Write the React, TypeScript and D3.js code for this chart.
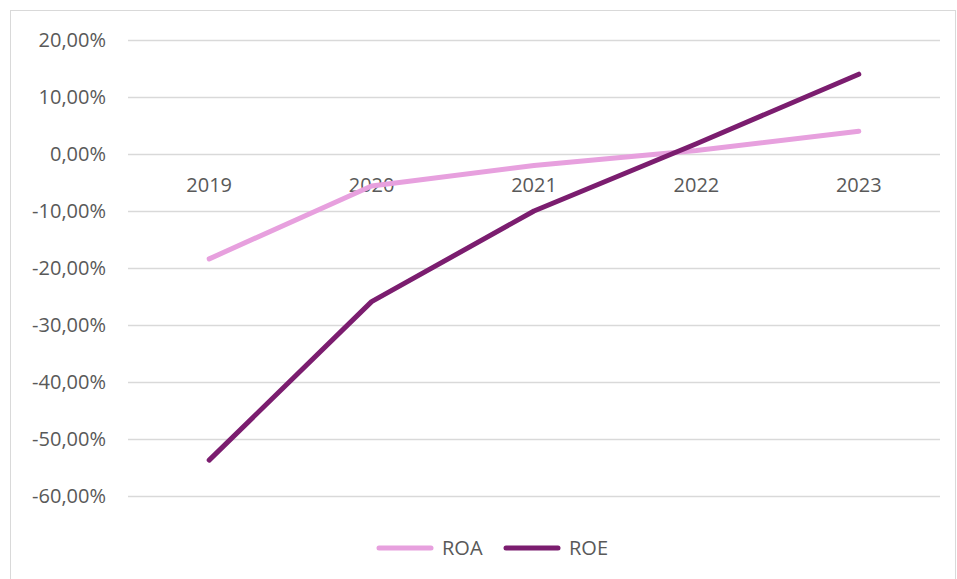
import React, { useEffect, useRef } from "react";
import * as d3 from "d3";

const years = ["2019", "2020", "2021", "2022", "2023"];
const roa = [-18.4, -5.6, -2.0, 0.6, 4.0];
const roe = [-53.7, -25.9, -10.0, 1.8, 14.0];
const yTicks = [20, 10, 0, -10, -20, -30, -40, -50, -60];

const W = 957;
const H = 579;
const FONT = "'Open Sans', sans-serif";
const FS = 20;
const TEXT = "#595959";

// Excel style: comma decimal, plain hyphen for negatives
const pct = d3.formatLocale({ decimal: ",", thousands: ".", grouping: [3], currency: ["", ""], minus: "-" }).format(".2f");

export default function App() {
  const ref = useRef<SVGSVGElement>(null);

  useEffect(() => {
    const svg = d3.select(ref.current);
    svg.selectAll("*").remove();

    // chart frame
    svg.append("rect")
      .attr("x", 10.5).attr("y", 10.5)
      .attr("width", 945).attr("height", 620)
      .attr("fill", "#fff").attr("stroke", "#d9d9d9");

    const x = d3.scaleBand().domain(years).range([128, 940]);
    const y = d3.scaleLinear().domain([-60, 20]).range([496, 40]);

    // gridlines + y labels
    const grid = svg.append("g");
    yTicks.forEach(t => {
      grid.append("line")
        .attr("x1", 128).attr("x2", 940)
        .attr("y1", Math.round(y(t)) + 0.5).attr("y2", Math.round(y(t)) + 0.5)
        .attr("stroke", "#d9d9d9").attr("stroke-width", 1.3);
      grid.append("text")
        .attr("x", 106).attr("y", y(t))
        .attr("dy", "0.35em")
        .attr("text-anchor", "end")
        .attr("fill", TEXT)
        .style("font", `${FS}px ${FONT}`)
        .text(pct(t) + "%");
    });

    // category labels sit below the zero line
    years.forEach(yr => {
      svg.append("text")
        .attr("x", x(yr)! + x.bandwidth() / 2)
        .attr("y", y(0) + 38)
        .attr("text-anchor", "middle")
        .attr("fill", TEXT)
        .style("font", `${FS}px ${FONT}`)
        .text(yr);
    });

    const line = d3.line<number>()
      .x((d, i) => x(years[i])! + x.bandwidth() / 2)
      .y(d => y(d));

    const series = [
      { name: "ROA", values: roa, color: "#e7a0de" },
      { name: "ROE", values: roe, color: "#7b1d6f" },
    ];

    series.forEach(s => {
      svg.append("path")
        .attr("d", line(s.values))
        .attr("fill", "none")
        .attr("stroke", s.color)
        .attr("stroke-width", 5)
        .attr("stroke-linecap", "round")
        .attr("stroke-linejoin", "round");
    });

    // legend
    const legendX = [377, 504];
    series.forEach((s, i) => {
      const g = svg.append("g").attr("transform", `translate(${legendX[i]},548)`);
      g.append("line")
        .attr("x1", 2).attr("x2", 54)
        .attr("stroke", s.color).attr("stroke-width", 5)
        .attr("stroke-linecap", "round");
      g.append("text")
        .attr("x", 65).attr("dy", "0.35em")
        .attr("fill", TEXT)
        .style("font", `${FS}px ${FONT}`)
        .text(s.name);
    });
  }, []);

  return (
    <svg ref={ref} width={W} height={H}
      style={{ position: "absolute", left: 0, top: 0, display: "block" }} />
  );
}
